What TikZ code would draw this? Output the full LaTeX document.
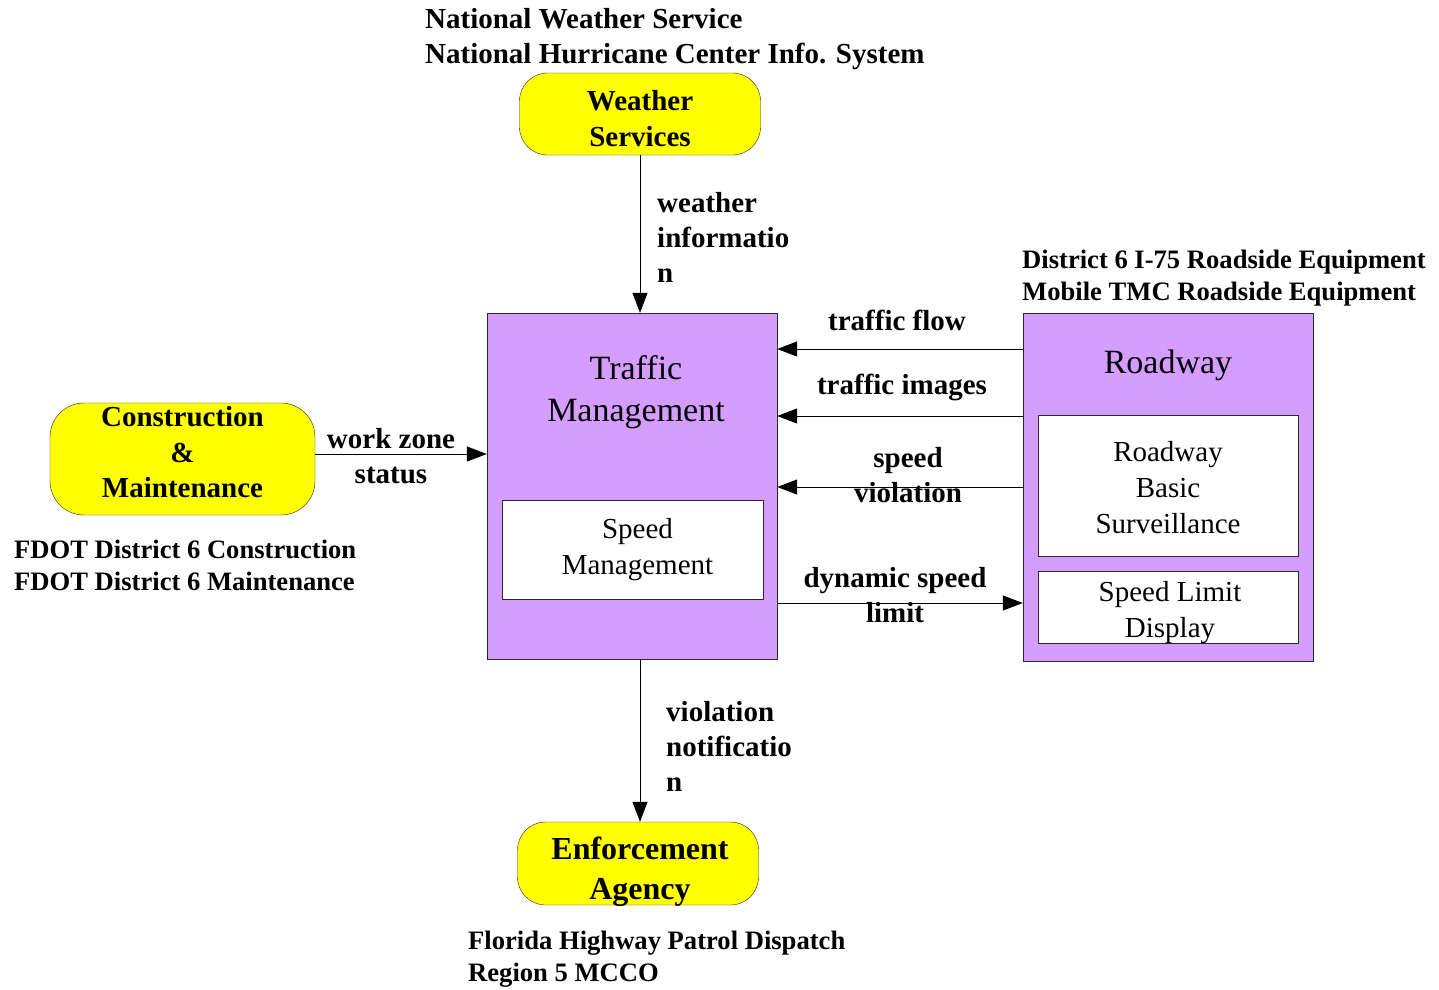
\documentclass[tikz,border=0pt]{standalone}
\usepackage{fontspec}
\setmainfont{Liberation Serif}
\usepackage{tikz}
\usetikzlibrary{arrows.meta, positioning}
\definecolor{itsyellow}{RGB}{255,255,0}
\definecolor{itspurple}{RGB}{213,157,255}
\definecolor{itsedge}{RGB}{40,40,40}

\begin{document}
\begin{tikzpicture}[x=1pt, y=-1pt,
  >={Triangle[length=20pt, width=15pt]},
  extbox/.style={draw=itsedge, fill=itsyellow, rounded corners=28pt,
    inner sep=0pt},
  exttext/.style={align=center, inner sep=0pt,
    font=\fontsize{29}{36}\selectfont\bfseries},
  subsys/.style={draw=itsedge, fill=itspurple, inner sep=0pt},
  subtitle/.style={align=center, inner sep=0pt,
    font=\fontsize{34}{42}\selectfont},
  module/.style={draw=itsedge, fill=white, inner sep=0pt},
  modtext/.style={align=center, inner sep=0pt,
    font=\fontsize{29}{36}\selectfont},
  flowlab/.style={align=center, inner sep=0pt,
    font=\fontsize{29}{35}\selectfont\bfseries},
  syslab/.style={align=left, anchor=west, inner sep=0pt,
    font=\fontsize{26.6}{32}\selectfont\bfseries},
  flow/.style={->, line width=1pt}]

\useasboundingbox (0,0) rectangle (1439,989);

%% Subsystems
\node[subsys, minimum width=290pt, minimum height=346pt] (tm) at (632,486) {};
\node[subtitle] (tmtitle) at (636,392) {Traffic\\Management};
\node[module, minimum width=261pt, minimum height=99pt,
  label={[modtext, xshift=5pt]center:{Speed\\Management}}]
  (speedmgmt) at (632.5,549.5) {};

\node[subsys, minimum width=290pt, minimum height=348pt] (road) at (1168,487) {};
\node[subtitle] (roadtitle) at (1168,365) {Roadway};
\node[module, minimum width=260pt, minimum height=141pt,
  label={[modtext, yshift=-2.5pt]center:{Roadway\\Basic\\Surveillance}}]
  (surv) at (1168,485.5) {};
\node[module, minimum width=260pt, minimum height=72pt,
  label={[modtext, yshift=-6pt, xshift=2pt]center:{Speed Limit\\Display}}]
  (sld) at (1168,607) {};

%% Terminators
\node[extbox, minimum width=241pt, minimum height=82pt,
  label={[exttext, yshift=-5pt]center:{Weather\\Services}}]
  (weather) at (640,114) {};
\node[extbox, minimum width=265pt, minimum height=112pt, rounded corners=34pt,
  label={[exttext, font=\fontsize{29}{35.5}\selectfont\bfseries,
    yshift=6.5pt]center:{Construction\\\&\\Maintenance}}]
  (constr) at (182.5,459) {};
\node[extbox, minimum width=241pt, minimum height=83pt,
  label={[exttext, font=\fontsize{32}{40}\selectfont\bfseries,
    yshift=-8pt, xshift=2pt]center:{Enforcement\\Agency}}]
  (enf) at (638,863.5) {};

%% System labels
\node[syslab, font=\fontsize{29}{35}\selectfont\bfseries] (weathersys) at (425,39)
  {National Weather Service\\National Hurricane Center Info. System};
\node[syslab] (roadsys) at (1022,278)
  {District 6 I-75 Roadside Equipment\\Mobile TMC Roadside Equipment};
\node[syslab] (constrsys) at (14,565)
  {FDOT District 6 Construction\\FDOT District 6 Maintenance};
\node[syslab] (enfsys) at (468,959)
  {Florida Highway Patrol Dispatch\\Region 5 MCCO};

%% Flows
\coordinate (tmtop) at (weather.south |- tm.north);
\coordinate (tmbot) at (weather.south |- tm.south);
\draw[flow] (weather.south) -- (tmtop);
\draw[flow] (tmbot) -- (tmbot |- enf.north);
\draw[flow] (constr.east |- 0,454) -- (tm.west |- 0,454);
\draw[flow] (road.west |- 0,349) -- (tm.east |- 0,349);
\draw[flow] (road.west |- 0,416) -- (tm.east |- 0,416);
\draw[flow] (road.west |- 0,487) -- (tm.east |- 0,487);
\draw[flow] (tm.east |- 0,603) -- (road.west |- 0,603);

%% Flow labels
\node[flowlab, align=left, anchor=west] (lweather) at (657,237)
  {weather\\informatio\\n};
\node[flowlab, align=left, anchor=west] (lviol) at (666,746)
  {violation\\notificatio\\n};
\node[flowlab] (lwork) at (391,456) {work zone\\status};
\node[flowlab] (lflow) at (897,320) {traffic flow};
\node[flowlab] (limages) at (902,387) {traffic images};
\node[flowlab] (lspeed) at (908,475) {speed\\violation};
\node[flowlab] (ldyn) at (895,595) {dynamic speed\\limit};

\end{tikzpicture}
\end{document}
